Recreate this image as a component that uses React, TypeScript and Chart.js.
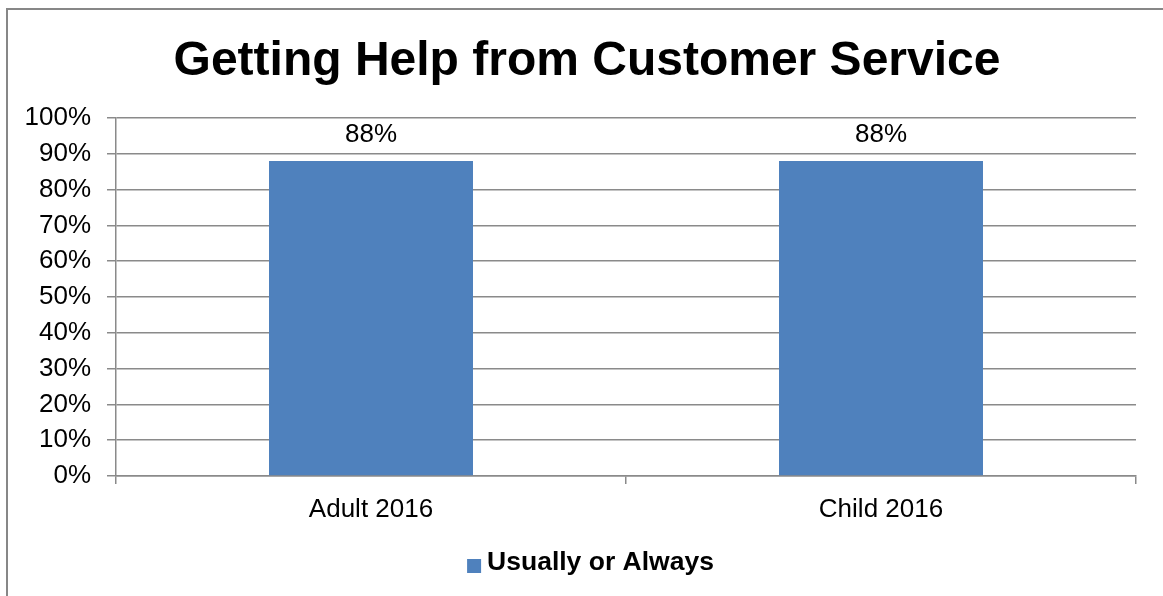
import React, { useEffect, useRef } from "react";
import { Chart, registerables } from "chart.js";

Chart.register(...registerables);

const categories = ["Adult 2016", "Child 2016"];
const seriesName = "Usually or Always";
const seriesValues = [88, 88];
const titleText = "Getting Help from Customer Service";

const GRID = "#8a8a8a";
const BAR = "#4F81BD";
const FONT = "'Liberation Sans', Arial, sans-serif";

const framePlugin = {
  id: "frame",
  beforeDraw(chart: any) {
    const ctx = chart.ctx;
    ctx.save();
    ctx.fillStyle = "#ffffff";
    ctx.fillRect(0, 0, chart.width, chart.height);
    ctx.strokeStyle = "#878787";
    ctx.lineWidth = 2;
    ctx.beginPath();
    ctx.moveTo(7, chart.height + 2);
    ctx.lineTo(7, 9);
    ctx.lineTo(chart.width + 2, 9);
    ctx.stroke();
    ctx.restore();
  },
};

const titleShiftPlugin = {
  id: "titleShift",
  afterLayout(chart: any) {
    const t = chart.titleBlock;
    if (t) t.left = 38;
  },
};

const labelPlugin = {
  id: "barLabels",
  afterDatasetsDraw(chart: any) {
    const ctx = chart.ctx;
    ctx.save();
    ctx.font = `26px ${FONT}`;
    ctx.fillStyle = "#000";
    ctx.textAlign = "center";
    ctx.textBaseline = "middle";
    chart.data.datasets.forEach((ds: any, i: number) => {
      const meta = chart.getDatasetMeta(i);
      meta.data.forEach((el: any, j: number) => {
        ctx.fillText(`${ds.data[j]}%`, el.x, el.y - 26);
      });
    });
    ctx.restore();
  },
};

const legendPlugin = {
  id: "customLegend",
  afterDraw(chart: any) {
    const ctx = chart.ctx;
    ctx.save();
    const ds = chart.data.datasets[0];
    ctx.font = `bold 26.5px ${FONT}`;
    const tw = ctx.measureText(ds.label).width;
    const box = 14;
    const gap = 6;
    const total = box + gap + tw;
    const cx = 590.5;
    const cy = 563;
    const x0 = cx - total / 2;
    ctx.fillStyle = ds.backgroundColor;
    ctx.fillRect(x0, cy - box / 2 + 3, box, box);
    ctx.fillStyle = "#000";
    ctx.textAlign = "left";
    ctx.textBaseline = "middle";
    ctx.fillText(ds.label, x0 + box + gap, cy);
    ctx.restore();
  },
};

export default function App() {
  const ref = useRef<HTMLCanvasElement>(null);
  useEffect(() => {
    if (!ref.current) return;
    const chart = new Chart(ref.current, {
      type: "bar",
      data: {
        labels: categories,
        datasets: [
          {
            label: seriesName,
            data: seriesValues,
            backgroundColor: BAR,
            borderWidth: 0,
            categoryPercentage: 1,
            barPercentage: 0.4,
          },
        ],
      },
      options: {
        responsive: false,
        animation: false,
        layout: { padding: { left: 10, right: 27, top: 0, bottom: 56.5 } },
        plugins: {
          tooltip: { enabled: false },
          title: {
            display: true,
            text: titleText,
            color: "#000",
            font: { family: FONT, size: 48, weight: "bold", lineHeight: 1.2 },
            padding: { top: 33, bottom: 27.4 },
          },
          legend: { display: false },
        },
        scales: {
          x: {
            grid: {
              display: true,
              drawOnChartArea: false,
              drawTicks: true,
              tickLength: 8,
              color: GRID,
              lineWidth: 1.5,
              offset: true,
            },
            border: { color: GRID, width: 1.5 },
            ticks: {
              color: "#000",
              font: { family: FONT, size: 26 },
              padding: 10,
              maxRotation: 0,
            },
            afterFit(scale: any) {
              scale.height = 63.5;
            },
          },
          y: {
            min: 0,
            max: 100,
            grid: { color: GRID, tickLength: 9, lineWidth: 1.5 },
            border: { color: GRID, width: 1.5 },
            ticks: {
              stepSize: 10,
              color: "#000",
              font: { family: FONT, size: 26 },
              padding: 16,
              callback: (v: any) => `${v}%`,
            },
            afterFit(scale: any) {
              scale.width = 106;
            },
          },
        },
      },
      plugins: [framePlugin, titleShiftPlugin, labelPlugin, legendPlugin],
    });
    return () => chart.destroy();
  }, []);
  return (
    <div style={{ position: "absolute", left: 0, top: 0, width: 1163, height: 596, overflow: "hidden" }}>
      <canvas ref={ref} width={1163} height={596} style={{ display: "block" }} />
    </div>
  );
}
